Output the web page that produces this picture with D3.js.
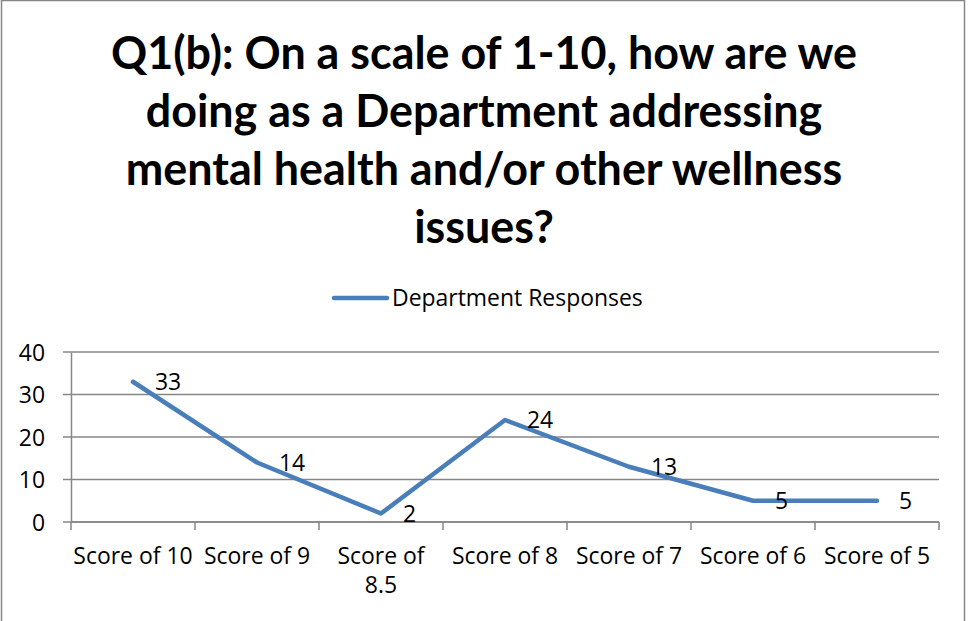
<!DOCTYPE html>
<html>
<head>
<meta charset="utf-8">
<script src="https://cdn.jsdelivr.net/npm/d3@7"></script>
<style>
  html, body { margin: 0; padding: 0; background: #fff; }
  svg { display: block; }
  text { font-family: "Open Sans", Lato, sans-serif; fill: #000; }
</style>
</head>
<body>
<svg id="chart" width="968" height="621"></svg>
<script>
const titleLines = ["Q1(b): On a scale of 1-10, how are we", "doing as a Department addressing", "mental health and/or other wellness", "issues?"];
const categories = ["Score of 10", "Score of 9", "Score of 8.5", "Score of 8", "Score of 7", "Score of 6", "Score of 5"];
const categoryLines = [["Score of 10"], ["Score of 9"], ["Score of", "8.5"], ["Score of 8"], ["Score of 7"], ["Score of 6"], ["Score of 5"]];
const seriesName = "Department Responses";
const responses = [33, 14, 2, 24, 13, 5, 5];
const yTicks = [0, 10, 20, 30, 40];

const svg = d3.select("#chart");
const lineColor = "#4A7EBB";
const gridColor = "#868686";

// frame
svg.append("rect").attr("x", 1.5).attr("y", 0.5).attr("width", 963).attr("height", 640)
  .attr("fill", "#fff").attr("stroke", gridColor).attr("stroke-width", 1.5);

// title
const tl = svg.append("g").selectAll("text").data(titleLines).join("text")
  .attr("x", 484).attr("y", (d, i) => 69 + i * 58)
  .attr("text-anchor", "middle").attr("font-weight", "bold").attr("font-size", 40)
  .style("font-family", "Lato, sans-serif")
  .text(d => d);
const w0 = tl.node().getComputedTextLength();
tl.attr("font-size", 40 * 746 / w0);

// legend (used to size the small text)
svg.append("line").attr("x1", 334).attr("x2", 387).attr("y1", 298).attr("y2", 298)
  .attr("stroke", lineColor).attr("stroke-width", 4.5).attr("stroke-linecap", "round");
const leg = svg.append("text").attr("x", 392).attr("y", 298).attr("dy", "0.35em")
  .attr("font-size", 20).text(seriesName);
const fsSmall = 20 * 251 / leg.node().getComputedTextLength();
leg.attr("font-size", fsSmall);

// scales
const m = { left: 71, right: 939, top: 352, bottom: 522 };
const x = d3.scaleBand().domain(categories).range([m.left, m.right]);
const y = d3.scaleLinear().domain([0, 40]).range([m.bottom, m.top]);

// grid
svg.append("g").selectAll("line").data(yTicks).join("line")
  .attr("x1", m.left - 8).attr("x2", m.right)
  .attr("y1", d => y(d)).attr("y2", d => y(d))
  .attr("stroke", gridColor).attr("stroke-width", 1.5);

// y axis
const yg = svg.append("g").attr("transform", `translate(${m.left},0)`)
  .call(d3.axisLeft(y).tickValues(yTicks).tickSize(0).tickPadding(0));
yg.select(".domain").attr("stroke", gridColor).attr("stroke-width", 1.5);
yg.selectAll("text").attr("x", -26).attr("font-size", fsSmall).attr("dy", "0.35em")
  .style("font-family", "'Open Sans', sans-serif").attr("fill", "#000");

// x axis
const bounds = categories.map(c => x(c)).concat([x(categories[categories.length - 1]) + x.bandwidth()]);
svg.append("g").selectAll("line").data(bounds).join("line")
  .attr("x1", d => d).attr("x2", d => d)
  .attr("y1", m.bottom).attr("y2", m.bottom + 8)
  .attr("stroke", gridColor).attr("stroke-width", 1.5);
svg.append("line").attr("x1", m.left).attr("x2", m.right)
  .attr("y1", m.bottom).attr("y2", m.bottom)
  .attr("stroke", gridColor).attr("stroke-width", 1.5);

const xl = svg.append("g").selectAll("text").data(categories).join("text")
  .attr("text-anchor", "middle").attr("font-size", fsSmall);
xl.each(function(d, i) {
  d3.select(this).selectAll("tspan").data(categoryLines[i]).join("tspan")
    .attr("x", x(d) + x.bandwidth() / 2)
    .attr("y", (t, j) => 564 + j * 29)
    .text(t => t);
});

// line
const line = d3.line().x((d, i) => x(categories[i]) + x.bandwidth() / 2).y(d => y(d));
svg.append("path").datum(responses).attr("d", line)
  .attr("fill", "none").attr("stroke", lineColor).attr("stroke-width", 4.5)
  .attr("stroke-linejoin", "round").attr("stroke-linecap", "round");

// data labels
svg.append("g").selectAll("text").data(responses).join("text")
  .attr("x", (d, i) => x(categories[i]) + x.bandwidth() / 2 + 22)
  .attr("y", d => y(d)).attr("dy", "0.35em")
  .attr("font-size", fsSmall).text(d => d);
</script>
</body>
</html>
